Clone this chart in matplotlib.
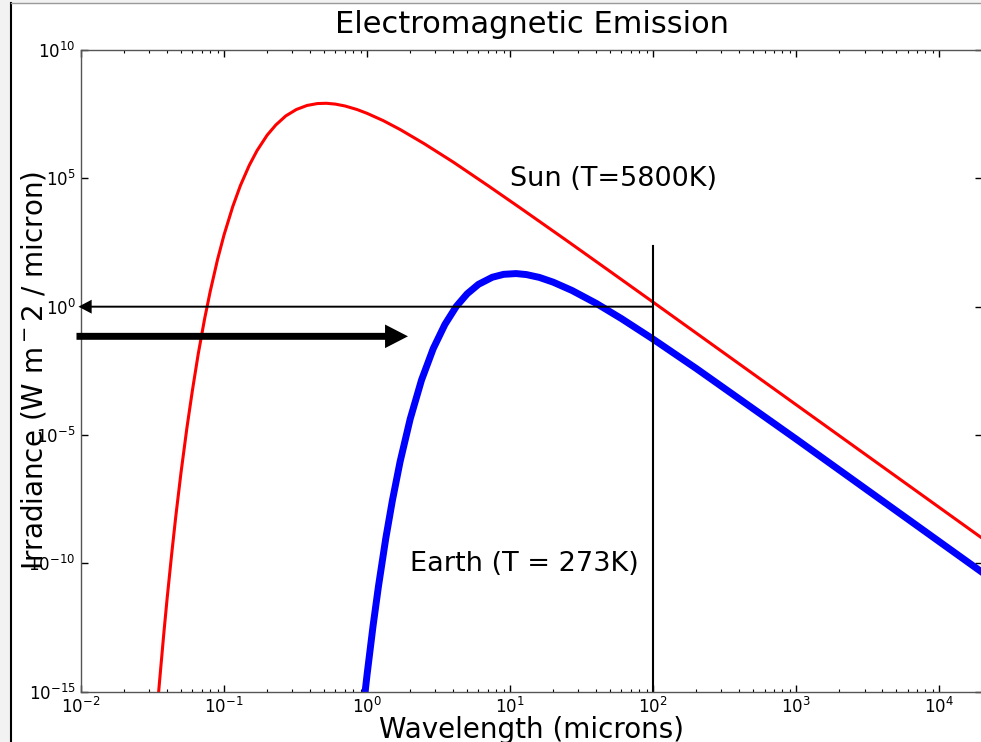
import numpy as np
import matplotlib
matplotlib.use("Agg")
import matplotlib.pyplot as plt
from matplotlib.lines import Line2D
from matplotlib.patches import Rectangle
from matplotlib.ticker import LogLocator, NullLocator, NullFormatter

# Sun (T=5800K) curve (microns, W m-2 / micron)
sun_wl = [0.034, 0.035, 0.036, 0.038, 0.040, 0.043, 0.046, 0.050, 0.055, 0.060,
          0.066, 0.073, 0.080, 0.090, 0.10, 0.115, 0.13, 0.15, 0.17, 0.20,
          0.23, 0.27, 0.32, 0.38, 0.45, 0.52, 0.60, 0.70, 0.85, 1.0,
          1.3, 1.7, 2.5, 4, 7, 12, 25, 50, 100, 1000, 20000]
sun_irr = [1.7e-16, 1.2e-15, 7.2e-15, 2.1e-13, 4.3e-12, 2.2e-10, 6.9e-9, 3.4e-7, 1.9e-5, 5.2e-4,
           0.0145, 0.32, 3.9, 68, 630, 7.9e3, 5.2e4, 3.2e5, 1.2e6, 4.8e6,
           1.2e7, 2.7e7, 4.8e7, 6.9e7, 8.2e7, 8.4e7, 7.8e7, 6.6e7, 4.8e7, 3.4e7,
           1.76e7, 8.0e6, 2.26e6, 4.3e5, 5.2e4, 6.5e3, 367, 23.5, 1.49, 1.5e-4, 9.4e-10]

# Earth (T = 273K) curve
earth_wl = [0.95, 1.0, 1.1, 1.2, 1.35, 1.5, 1.7, 2.0, 2.4, 2.9,
            3.5, 4.2, 5, 6, 7.5, 9, 11, 13, 16, 20,
            27, 40, 60, 100, 200, 1000, 20000]
earth_irr = [3.9e-16, 4.8e-15, 3.6e-13, 1.26e-11, 9.3e-10, 2.7e-8, 9.1e-7, 4.2e-5, 1.38e-3, 0.0234,
             0.204, 1.02, 3.16, 7.4, 14.0, 18.2, 19.5, 17.8, 13.8, 9.0,
             4.3, 1.34, 0.342, 0.054, 3.9e-3, 6.9e-6, 4.4e-11]

xticks = [1e-2, 1e-1, 1e0, 1e1, 1e2, 1e3, 1e4]
yticks = [1e-15, 1e-10, 1e-5, 1e0, 1e5, 1e10]

cutoff_wl = 100
cutoff_top = 240
thin_arrow = [(100, 1.0), (0.0096, 1.0)]
thick_arrow = [(0.0093, 0.07), (1.93, 0.07)]

fig = plt.figure(figsize=(9.81, 7.42), dpi=100, facecolor="#f2f2f2")
# window-like frame of the screenshot
fig.patches.append(Rectangle((11 / 981, 0), 1, 739 / 742, transform=fig.transFigure,
                             facecolor="white", edgecolor="none", zorder=-5))
fig.add_artist(Line2D([11 / 981, 11 / 981], [0, 739 / 742], color="black", lw=1.5))
fig.add_artist(Line2D([11 / 981, 1], [739 / 742, 739 / 742], color="#999999", lw=1))

ax = fig.add_axes([81 / 981, 50.3 / 742, 901.4 / 981, 641.7 / 742], zorder=1)
ax.plot(sun_wl, sun_irr, color="red", lw=2.2)
ax.plot(earth_wl, earth_irr, color="blue", lw=5)
ax.plot([cutoff_wl, cutoff_wl], [1e-15, cutoff_top], color="black", lw=1.5)

ax.annotate("", xy=thin_arrow[1], xytext=thin_arrow[0], annotation_clip=False,
            arrowprops=dict(arrowstyle="simple,head_length=9.5,head_width=10,tail_width=1.4",
                            mutation_scale=1, color="black", lw=0, shrinkA=0, shrinkB=0))
ax.annotate("", xy=thick_arrow[1], xytext=thick_arrow[0], annotation_clip=False,
            arrowprops=dict(arrowstyle="simple,head_length=16.5,head_width=17,tail_width=5",
                            mutation_scale=1, color="black", lw=0, shrinkA=0, shrinkB=0,
                            clip_on=False))

ax.text(10, 5e4, "Sun (T=5800K)", fontsize=19.5)
ax.text(2, 5e-11, "Earth (T = 273K)", fontsize=19.5)

ax.set_xscale("log")
ax.set_yscale("log")
ax.set_xticks(xticks)
ax.set_yticks(yticks)
ax.xaxis.set_minor_locator(LogLocator(base=10, subs=np.arange(2, 10), numticks=100))
ax.xaxis.set_minor_formatter(NullFormatter())
ax.yaxis.set_minor_locator(NullLocator())
ax.set_xlim(1e-2, 2e4)
ax.set_ylim(1e-15, 1e10)

ax.tick_params(which="both", direction="in", top=True, right=True)
ax.tick_params(which="major", length=5, width=1, labelsize=12, pad=4)
ax.tick_params(which="minor", length=2.5, width=0.8)
for s in ax.spines.values():
    s.set_linewidth(1)
    s.set_color("#555555")

ax.set_title("Electromagnetic Emission", fontsize=22, pad=12)
ax.set_xlabel("Wavelength (microns)", fontsize=20)
ax.xaxis.set_label_coords(0.5, -0.038)
ax.set_ylabel("Irradiance (W m$^-$2 / micron)", fontsize=20)
ax.yaxis.set_label_coords(-0.036, 0.5)

fig.savefig("out.png", dpi=100)
